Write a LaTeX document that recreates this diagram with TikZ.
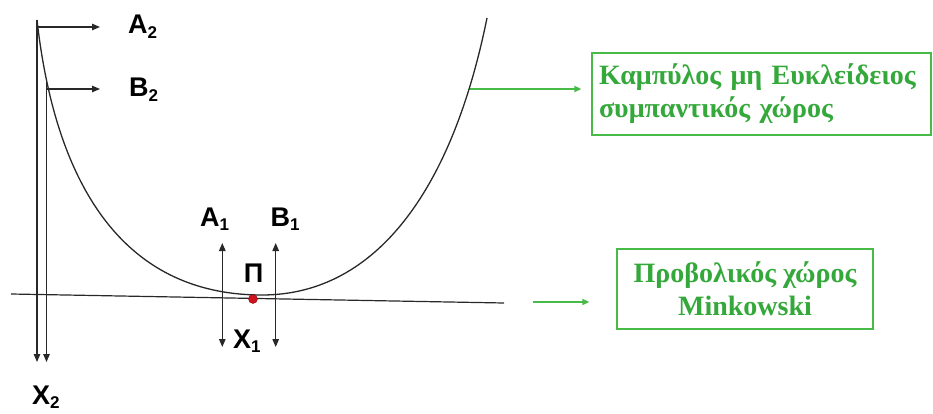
\documentclass[tikz,border=0pt]{standalone}
\usepackage{fontspec}
\setmainfont{Liberation Serif}
\newfontfamily\lblfont{Liberation Sans}
\usetikzlibrary{arrows.meta,positioning}
\definecolor{spgreen}{RGB}{72,186,72}
\definecolor{sptext}{RGB}{52,168,58}
\definecolor{spline}{RGB}{40,40,40}
\definecolor{spred}{RGB}{205,20,30}
\newcommand{\lbl}[2]{#1\raisebox{-.35ex}{\fontsize{17}{17}\selectfont #2}}

\begin{document}
\begin{tikzpicture}[x=1pt,y=-1pt,
      ax/.style={draw=spline,line width=1.3pt,-{Triangle[length=8pt,width=6.5pt]}},
      dax/.style={ax,{Triangle[length=8pt,width=6.5pt]}-{Triangle[length=8pt,width=6.5pt]}},
      lab/.style={font=\lblfont\bfseries\fontsize{27}{27}\selectfont,inner sep=0pt,anchor=base west},
      gbox/.style={draw=spgreen,line width=1.2pt,text=sptext,font=\bfseries\fontsize{28}{33}\selectfont},
      garr/.style={draw=spgreen,line width=1.6pt,-{Triangle[length=7pt,width=6pt]}}]
      \useasboundingbox (0,0) rectangle (933,414);
      % tangent plane and curved space
      \coordinate (tl) at (11,294);
      \coordinate (tr) at (504,303);
      \draw[spline,line width=1.2pt] (tl) -- (tr);
      \coordinate (ctop) at (37,20);
      \coordinate (cmin) at (262,295);
      \coordinate (cend) at (487,18);
      \draw[spline,line width=1.3pt] (ctop) .. controls (55,180) and (120,295) .. (cmin)
        .. controls (370,295) and (450,200) .. (cend);
      % far points A2, B2 and their projections
      \coordinate (b2top) at (46.5,82);
      \coordinate (x2a) at (37,362);
      \coordinate (x2b) at (46.5,362);
      \coordinate (a2foot) at (37,27);
      \coordinate (a2tip) at (100,27);
      \coordinate (b2foot) at (46.5,89);
      \coordinate (b2tip) at (100,89);
      \draw[ax] (ctop) -- (x2a);
      \draw[ax] (b2top) -- (x2b);
      \draw[ax] (a2foot) -- (a2tip);
      \draw[ax] (b2foot) -- (b2tip);
      % near points A1, B1
      \coordinate (a1top) at (222.3,243);
      \coordinate (a1bot) at (222.3,347);
      \coordinate (b1top) at (275.7,243);
      \coordinate (b1bot) at (275.7,347);
      \draw[dax] (a1bot) -- (a1top);
      \draw[dax] (b1bot) -- (b1top);
      \node[circle,fill=spred,draw=spred!70!black,minimum size=9pt,inner sep=0pt] (P) at (253,299) {};
      % labels
      \node[lab] (A2) at (128,34) {\lbl{A}{2}};
      \node[lab] (B2) at (129,97) {\lbl{B}{2}};
      \node[lab] (A1) at (200,226) {\lbl{A}{1}};
      \node[lab] (B1) at (270.5,226) {\lbl{B}{1}};
      \node[lab,anchor=base] (Pi) at (253.5,282) {Π};
      \node[lab] (X1) at (233,348) {\lbl{Χ}{1}};
      \node[lab] (X2) at (32,404) {\lbl{Χ}{2}};
      % the two spaces
      \node[gbox,minimum width=339pt,minimum height=82pt,text width=325pt,inner xsep=7pt,align=left] (curved) at (761.5,94)
        {Καμπύλος μη Ευκλείδειος\\συμπαντικός χώρος};
      \node[gbox,minimum width=256pt,minimum height=80pt,align=center] (flat) at (745,289)
        {Προβολικός χώρος\\Minkowski};
      \coordinate (c1) at (470,89);
      \coordinate (m1) at (533,302);
      \draw[garr,shorten >=10pt] (c1) -- (c1 -| curved.west);
      \draw[garr,shorten >=27pt] (m1) -- (m1 -| flat.west);
    \end{tikzpicture}
\end{document}
